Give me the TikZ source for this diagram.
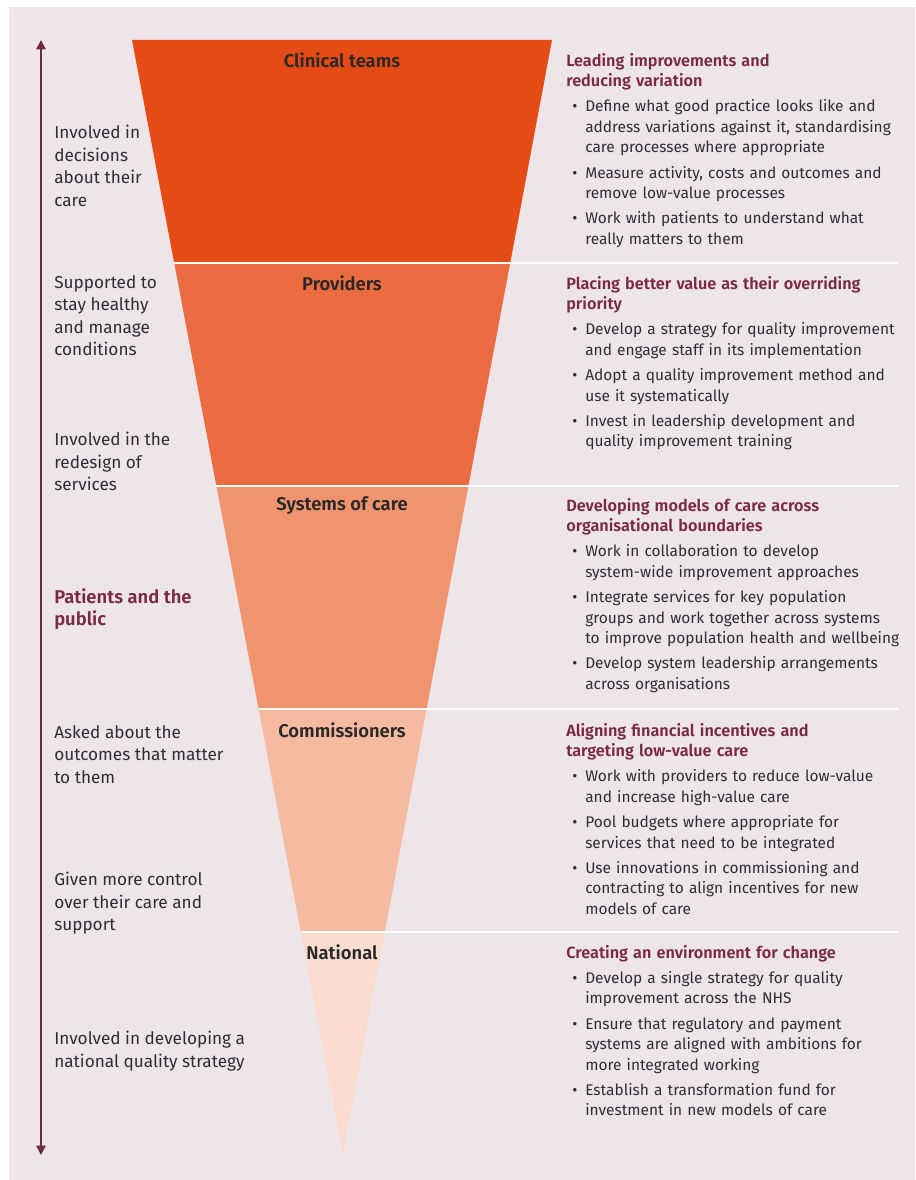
\documentclass[tikz,border=0pt]{standalone}
\usepackage{fontspec}
\setmainfont{Fira Sans}[BoldFont={Fira Sans SemiBold}]
\usetikzlibrary{arrows.meta,calc}

\definecolor{panel fill}{RGB}{237,229,232}
\definecolor{band1}{RGB}{229,75,20}
\definecolor{band2}{RGB}{236,108,65}
\definecolor{band3}{RGB}{240,148,112}
\definecolor{band4}{RGB}{245,186,160}
\definecolor{band5}{RGB}{250,220,209}
\definecolor{aim color}{RGB}{123,41,66}
\definecolor{axis color}{RGB}{110,42,62}
\definecolor{body color}{RGB}{45,45,55}
\definecolor{tier color}{RGB}{40,40,40}

\newcommand{\aimhead}[1]{{\fontsize{12.2pt}{15.4pt}\selectfont\bfseries\color{aim color}#1\par}}
\newcommand{\bitem}[1]{\par\vspace{3.4pt}\hangindent=14.25pt\hangafter=1\noindent
    \makebox[14.25pt][l]{\hspace{4.5pt}\textbullet}#1\par}

\begin{document}
\begin{tikzpicture}[x=0.75pt, y=-0.75pt,
    tier/.style={font=\fontsize{13.8pt}{15pt}\selectfont\bfseries, text=tier color, inner sep=0},
    aim/.style={anchor=north west, inner sep=0, text width=262pt, align=left,
        text=body color, font=\fontsize{11.6pt}{15.4pt}\selectfont},
    voice/.style={anchor=north west, inner sep=0, align=left, text=body color,
        font=\fontsize{12.9pt}{16.9pt}\selectfont},
    sep line/.style={white, line width=1.5pt},
    axis arrow/.style={axis color, line width=1.1pt, {Triangle[width=7pt,length=7pt]}-{Triangle[width=7pt,length=7pt]}}]
	\useasboundingbox (0,0) rectangle (915,1180);
	\fill [white] (0,0) rectangle (915,1180);
	\fill [panel fill] (9,7) rectangle (915,1180);

	\coordinate (tl) at (132,40);
	\coordinate (tr) at (552,40);
	\coordinate (apex) at (343,1155);
	\coordinate (redge) at (898,0);

	% funnel
	\foreach \c/\a/\b in {band1/0/0.2, band2/0.2/0.4, band3/0.4/0.6, band4/0.6/0.8, band5/0.8/1}
		\fill [\c] ($(tl)!\a!(apex)$) -- ($(tr)!\a!(apex)$) -- ($(tr)!\b!(apex)$) -- ($(tl)!\b!(apex)$) -- cycle;
	\foreach \f [count=\k] in {0.2,0.4,0.6,0.8} {
		\coordinate (s\k) at ($(tl)!\f!(apex)$);
		\draw [sep line] (s\k) -- (s\k -| redge);
	}

	\node [tier] (clin) at (342,60) {Clinical teams};
	\node [tier] (prov) at (342,283) {Providers};
	\node [tier] (sys) at (342,506) {Systems of care};
	\node [tier] (comm) at (342,730) {Commissioners};
	\node [tier] (natl) at (342,952) {National};

	% patients and the public
	\coordinate (atop) at (41,40);
	\coordinate (abot) at (41,1155);
	\draw [axis arrow] (abot) -- (atop);

	\node [voice] (v1) at (54,125) {Involved in\\decisions\\about their\\care};
	\node [voice] (v2) at (54,275) {Supported to\\stay healthy\\and manage\\conditions};
	\node [voice] (v3) at (54,432) {Involved in the\\redesign of\\services};
	\node [voice, text=aim color, font=\fontsize{13.8pt}{16.9pt}\selectfont\bfseries] (pub) at (54,588) {Patients and the\\public};
	\node [voice] (v4) at (54,725) {Asked about the\\outcomes that matter\\to them};
	\node [voice] (v5) at (54,872) {Given more control\\over their care and\\support};
	\node [voice] (v6) at (54,1031) {Involved in developing a\\national quality strategy};

	% aims
	\node [aim] (aim1) at (566,53) {\aimhead{Leading improvements and\newline reducing variation}
		\bitem{Define what good practice looks like and\newline address variations against it, standardising\newline care processes where appropriate}
		\bitem{Measure activity, costs and outcomes and\newline remove low-value processes}
		\bitem{Work with patients to understand what\newline really matters to them}};
	\node [aim] (aim2) at (566,276) {\aimhead{Placing better value as their overriding\newline priority}
		\bitem{Develop a strategy for quality improvement\newline and engage staff in its implementation}
		\bitem{Adopt a quality improvement method and\newline use it systematically}
		\bitem{Invest in leadership development and\newline quality improvement training}};
	\node [aim] (aim3) at (566,498) {\aimhead{Developing models of care across\newline organisational boundaries}
		\bitem{Work in collaboration to develop\newline system-wide improvement approaches}
		\bitem{Integrate services for key population\newline groups and work together across systems\newline to improve population health and wellbeing}
		\bitem{Develop system leadership arrangements\newline across organisations}};
	\node [aim] (aim4) at (566,723) {\aimhead{Aligning financial incentives and\newline targeting low-value care}
		\bitem{Work with providers to reduce low-value\newline and increase high-value care}
		\bitem{Pool budgets where appropriate for\newline services that need to be integrated}
		\bitem{Use innovations in commissioning and\newline contracting to align incentives for new\newline models of care}};
	\node [aim] (aim5) at (566,945) {\aimhead{Creating an environment for change}
		\bitem{Develop a single strategy for quality\newline improvement across the NHS}
		\bitem{Ensure that regulatory and payment\newline systems are aligned with ambitions for\newline more integrated working}
		\bitem{Establish a transformation fund for\newline investment in new models of care}};
\end{tikzpicture}
\end{document}
